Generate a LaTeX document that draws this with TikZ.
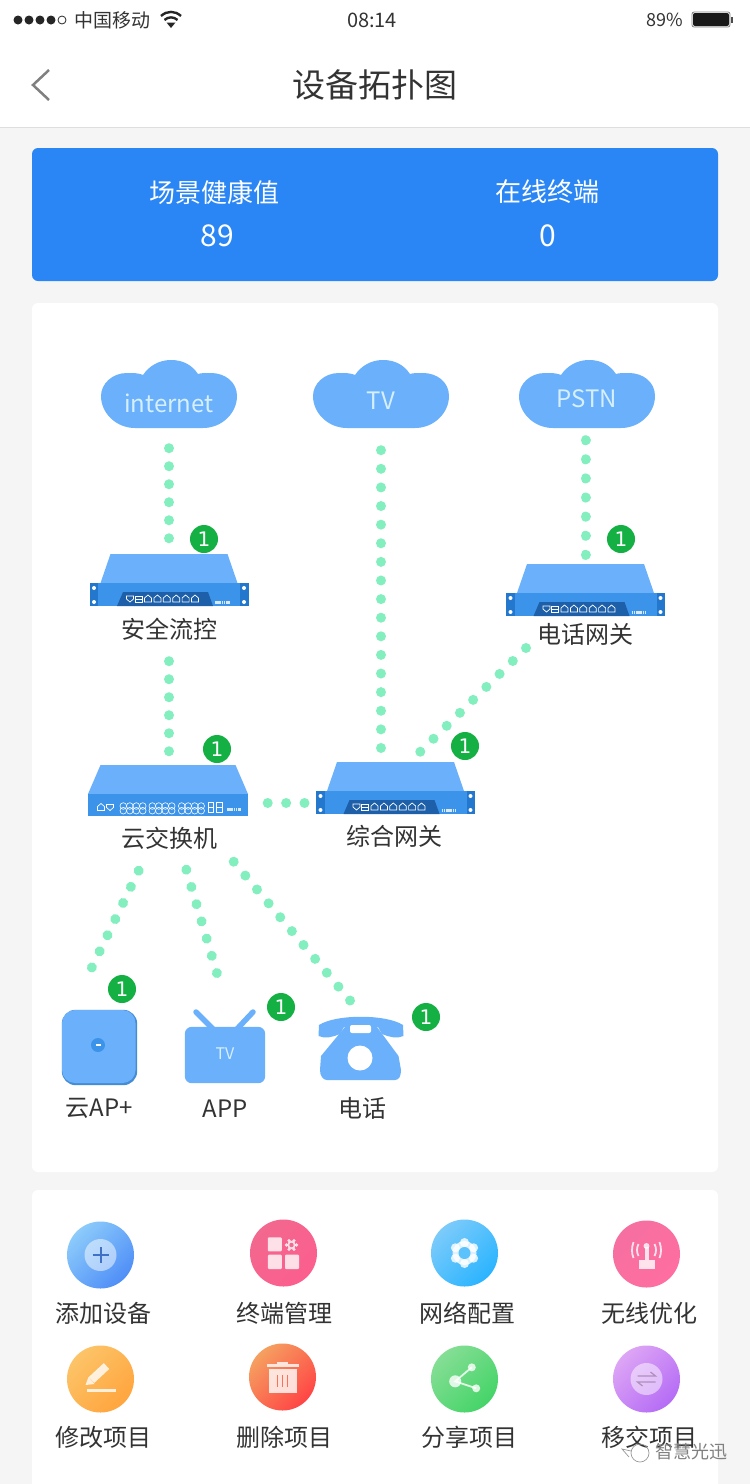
\documentclass[tikz,border=0pt]{standalone}
\usepackage{fontspec}
\setmainfont{Noto Sans CJK SC}
\newfontfamily\badgefont{DejaVu Sans}
\usetikzlibrary{positioning, arrows.meta}
\definecolor{pagegray}{HTML}{F5F5F5}
\definecolor{cardblue}{HTML}{2A86F5}
\definecolor{devtop}{HTML}{6BB0FA}
\definecolor{devfront}{HTML}{3C93EA}
\definecolor{devear}{HTML}{2378CE}
\definecolor{devtray}{HTML}{1D5FA8}
\definecolor{dotgreen}{HTML}{84EFBE}
\definecolor{badgegreen}{HTML}{14B043}
\definecolor{inkgray}{HTML}{333333}
\definecolor{cloudtext}{HTML}{D6EFFF}
\definecolor{addA}{HTML}{8CCBFA}
\definecolor{addB}{HTML}{4F8EF7}
\definecolor{termA}{HTML}{F2688E}
\definecolor{termB}{HTML}{FC5E8E}
\definecolor{netA}{HTML}{7CCBFA}
\definecolor{netB}{HTML}{2AB4FF}
\definecolor{radioA}{HTML}{F56FA0}
\definecolor{radioB}{HTML}{FF6EA0}
\definecolor{editA}{HTML}{FCC468}
\definecolor{editB}{HTML}{FFA53E}
\definecolor{dropA}{HTML}{F5A060}
\definecolor{dropB}{HTML}{FF4545}
\definecolor{shareA}{HTML}{85DE95}
\definecolor{shareB}{HTML}{45D468}
\definecolor{moveA}{HTML}{DDA5F5}
\definecolor{moveB}{HTML}{B56CF5}
\tikzset{
    fs/.style={font=\fontsize{#1}{#1}\selectfont},
    textnode/.style={inner sep=0pt, minimum height=30pt, text=inkgray, fs=24},
    cardtext/.style={inner sep=0pt, text=white, fs=26},
    cloudnode/.style={inner sep=0pt, minimum width=136pt, minimum height=50pt, text=cloudtext, fs=24},
    hostbox/.style={inner sep=0pt, minimum width=159pt, minimum height=#1},
    badge/.style={circle, fill=badgegreen, text=white, inner sep=0pt, minimum size=28pt, font=\badgefont\fontsize{20}{20}\selectfont},
    dotline/.style={draw=dotgreen, line width=10pt, line cap=round, dash pattern=on 0.01pt off #1},
    disc/.style 2 args={circle, inner sep=0pt, minimum size=67pt, top color=#1, bottom color=#2, shading angle=45},
    iconfill/.style={fill=white, fill opacity=.8},
    icondraw/.style={draw=white, draw opacity=.8},
    pics/cloudshape/.style={code={
        \fill[devtop] (-34,34) -- (34,34) .. controls (53,34) and (68,19) .. (68,2)
            .. controls (68,-12) and (56,-21) .. (42,-21) .. controls (36,-21) and (32,-21) .. (29,-20)
            .. controls (23,-29) and (14,-34) .. (2,-34) .. controls (-10,-34) and (-20,-28) .. (-26,-19)
            .. controls (-30,-21) and (-36,-21) .. (-42,-21) .. controls (-57,-21) and (-68,-10) .. (-68,2)
            .. controls (-68,19) and (-53,34) .. (-34,34) -- cycle;
    }},
    pics/gatewaybox/.style={code={
        \fill[devtop] (-58.5,-26) -- (58.5,-26) -- (68.5,3) -- (-68.5,3) -- cycle;
        \fill[devfront] (-79.5,3) rectangle (79.5,26);
        \fill[devear] (-79.5,3) rectangle (-71,26);
        \fill[devear] (71,3) rectangle (79.5,26);
        \foreach \sx in {-75,75}{\foreach \sy in {8,22}{\fill[white] (\sx,\sy) circle (2);}}
        \fill[devtray] (-46,12) -- (39,12) -- (44,26) -- (-52,26) -- cycle;
        \foreach \hx in {-21,-11.6,-2.2,7.2,16.6,26}{
            \draw[white, line width=.7pt] (\hx-3.5,22) -- (\hx+3.5,22) -- (\hx+3.5,18) -- (\hx,15) -- (\hx-3.5,18) -- cycle;}
        \draw[white, line width=.7pt] (-42.5,16) -- (-35.5,16) -- (-35.5,19) -- (-39,22) -- (-42.5,19) -- cycle;
        \draw[white, line width=.7pt] (-34,16) rectangle (-27,22) (-34,19) -- (-27,19);
        \draw[white, opacity=.8, line width=3pt, dash pattern=on 1.6pt off .6pt] (46,22.5) -- (61,22.5);
    }},
    pics/switchbox/.style={code={
        \fill[devtop] (-67.5,-25.5) -- (67.5,-25.5) -- (80,3.5) -- (-80,3.5) -- cycle;
        \fill[devfront] (-80,3.5) rectangle (80,25.5);
        \draw[white, line width=.7pt] (-70.5,20) -- (-63.5,20) -- (-63.5,16) -- (-67,13) -- (-70.5,16) -- cycle;
        \draw[white, line width=.7pt] (-61.5,14) -- (-54.5,14) -- (-54.5,17) -- (-58,20) -- (-61.5,17) -- cycle;
        \foreach \gx in {-44.7,-15.7,13.7}{\foreach \cx in {0,6.5,13,19.5}{\foreach \cy in {15.5,20.2}{
            \draw[white, line width=.6pt] (\gx+\cx,\cy) circle (3.3);}}}
        \draw[white, line width=.6pt] (40,12) rectangle (45.5,21.5) (40,16.7) -- (45.5,16.7);
        \draw[white, line width=.6pt] (48.5,12) rectangle (54,21.5) (48.5,16.7) -- (54,16.7);
        \draw[white, opacity=.8, line width=3pt, dash pattern=on 1.6pt off .6pt] (59,19) -- (73,19);
    }},
    pics/phoneshape/.style={code={
        \fill[devtop] (-42,-23) .. controls (-25,-34) and (25,-34) .. (42,-23) -- (42.5,-12)
            .. controls (36,-9) and (28,-11) .. (21,-14) -- (17,-21) -- (-17,-21) -- (-21,-14)
            .. controls (-28,-11) and (-36,-9) .. (-42.5,-12) -- cycle;
        \fill[devtop] (-16,-21) -- (16,-21) -- (37.5,8) -- (40,22) .. controls (40,28) and (38,32) .. (34,32)
            -- (-34,32) .. controls (-38,32) and (-41,28) .. (-41,22) -- (-40,8) -- cycle;
        \fill[white, rounded corners=2pt] (-11,-23) rectangle (10,-15);
        \fill[white] (-1,10) circle (12.5);
    }},
}

\begin{document}
\begin{tikzpicture}[x=1pt, y=-1pt]
    \useasboundingbox (0,0) rectangle (750,1484);
    % Page and cards
    \fill[pagegray] (0,0) rectangle (750,1484);
    \fill[white] (0,0) rectangle (750,127);
    \draw[black!13, line width=1pt] (0,127.5) -- (750,127.5);
    \fill[cardblue, rounded corners=6pt] (32,148) rectangle (718,281);
    \fill[white, rounded corners=6pt] (32,303) rectangle (718,1172);
    \fill[white, rounded corners=6pt] (32,1484) -- (32,1190) -- (718,1190) -- (718,1484);

    % Status bar
    \foreach \x in {18,29,40,51} \fill[black!85] (\x,20) circle (4.5);
    \draw[black!85, line width=.8pt] (62,20) circle (4);
    \node[inner sep=0pt, text=inkgray, fs=19] (carrier) at (112,20) {中国移动};
    \draw[black!85, line width=2.4pt] (161,16) .. controls (167,10.5) and (175,10.5) .. (181,16);
    \draw[black!85, line width=2.4pt] (164.5,20) .. controls (168,16.5) and (174,16.5) .. (177.5,20);
    \fill[black!85] (166.5,22.5) -- (175.5,22.5) -- (171,28) -- cycle;
    \node[inner sep=0pt, text=inkgray, fs=20] (clock) at (372,20) {08:14};
    \node[inner sep=0pt, text=inkgray, fs=18] (level) at (665,20) {89\%};
    \draw[black!50, line width=.8pt, rounded corners=2pt] (692,12) rectangle (730,27);
    \fill[black!90, rounded corners=2pt] (693,13) rectangle (729,26);
    \fill[black!70] (731,17) rectangle (733,23);

    % Header
    \draw[black!50, line width=2.5pt] (49,70) -- (33,85) -- (49,100);
    \node[inner sep=0pt, text=inkgray, fs=33] (title) at (375,85) {设备拓扑图};

    % Summary
    \node[cardtext] (health) at (214,192) {场景健康值};
    \node[cardtext] (online) at (547,192) {在线终端};
    \node[cardtext, fs=30] (healthval) at (217,236) {89};
    \node[cardtext, fs=30] (onlineval) at (548,236) {0};

    % Clouds
    \pic at (169,394) {cloudshape};
    \pic at (381,394) {cloudshape};
    \pic at (587,394) {cloudshape};
    \node[cloudnode] (internet) at (169,403) {internet};
    \node[cloudnode] (tv) at (381,401) {TV};
    \node[cloudnode] (pstn) at (587,399) {PSTN};

    % Devices
    \node[hostbox=52pt] (ctrl) at (169,580) {};
    \node[hostbox=52pt] (voice) at (585.5,590) {};
    \node[hostbox=52pt] (gateway) at (395.5,788) {};
    \node[hostbox=51pt] (switch) at (168,790.5) {};
    \pic at (ctrl) {gatewaybox};
    \pic at (voice) {gatewaybox};
    \pic at (gateway) {gatewaybox};
    \pic at (switch) {switchbox};
    \node[textnode] (ctrllabel) at (169,629) {安全流控};
    \node[textnode] (voicelabel) at (585,634) {电话网关};
    \node[textnode] (gatewaylabel) at (394,836) {综合网关};
    \node[textnode] (switchlabel) at (169,838) {云交换机};

    % Terminals
    \node[inner sep=0pt, minimum size=75pt] (ap) at (99.5,1047.5) {};
    \fill[devear!85, rounded corners=14pt] (ap.north west) rectangle (ap.south east);
    \fill[devtop, rounded corners=13pt] (62,1010) rectangle (135.5,1083);
    \fill[devfront] (98,1045) circle (7);
    \fill[white] (95.5,1044) rectangle (100.5,1046);
    \node[inner sep=0pt, minimum width=80pt, minimum height=56pt] (tvset) at (225,1055) {};
    \fill[devtop, rounded corners=7pt] (tvset.north west) rectangle (tvset.south east);
    \draw[devtop, line width=5.5pt, line cap=round] (213,1029) -- (196,1012);
    \draw[devtop, line width=5.5pt, line cap=round] (237,1029) -- (253,1012);
    \node[inner sep=0pt, text=cloudtext, fs=16] (tvmark) at (225,1054) {TV};
    \node[inner sep=0pt, minimum width=85pt, minimum height=65pt] (phone) at (361,1048) {};
    \pic at (phone) {phoneshape};
    \node[textnode] (aplabel) at (99,1108) {云AP+};
    \node[textnode] (tvlabel) at (225,1109) {APP};
    \node[textnode] (phonelabel) at (362,1108) {电话};

    % Free ends of the slanted links
    \coordinate (voiceout) at (526,648);
    \coordinate (gatewayin) at (420,752);
    \coordinate (swout1) at (138.7,870.7);
    \coordinate (apin) at (91.6,968);
    \coordinate (swout2) at (186.3,869.7);
    \coordinate (tvin) at (217,973.4);
    \coordinate (swout3) at (233.7,861.7);
    \coordinate (phonein) at (350.3,1000.8);

    % Edges
    \draw[dotline=18pt, shorten <=20pt, shorten >=15.4pt] (internet.south) -- (ctrl.north);
    \draw[dotline=18.6pt, shorten <=24pt, shorten >=13.6pt] (tv.south) -- (tv.south |- gateway.north);
    \draw[dotline=19.1pt, shorten <=16pt, shorten >=8.6pt] (voice.north |- pstn.south) -- (voice.north);
    \draw[dotline=18pt, shorten <=17pt, shorten >=13.4pt] (ctrllabel.south) -- (ctrllabel.south |- switch.north);
    \draw[dotline=18.4pt, shorten <=20pt, shorten >=10.8pt] ([yshift=-12.5pt]switch.east) -- ([yshift=-15pt]gateway.west);
    \draw[dotline=18.5pt] (voiceout) -- (gatewayin);
    \draw[dotline=17.9pt] (swout1) -- (apin);
    \draw[dotline=17.95pt] (swout2) -- (tvin);
    \draw[dotline=18.1pt] (swout3) -- (phonein);

    % Badges
    \node[badge] (badgectrl) at (204,539) {1};
    \node[badge] (badgevoice) at (621,539) {1};
    \node[badge] (badgeswitch) at (217,749) {1};
    \node[badge] (badgegateway) at (465,746) {1};
    \node[badge] (badgeap) at (122,989) {1};
    \node[badge] (badgetv) at (281,1007) {1};
    \node[badge] (badgephone) at (426,1017) {1};

    % Action buttons
    \node[disc={addA}{addB}] (add) at (100.5,1255) {};
    \node[disc={termA}{termB}] (term) at (283.5,1253) {};
    \node[disc={netA}{netB}] (net) at (464.5,1253) {};
    \node[disc={radioA}{radioB}] (radio) at (646.5,1254) {};
    \node[disc={editA}{editB}] (edit) at (100.5,1379) {};
    \node[disc={dropA}{dropB}] (drop) at (282.5,1377) {};
    \node[disc={shareA}{shareB}] (share) at (464.5,1379) {};
    \node[disc={moveA}{moveB}] (move) at (646.5,1379) {};
    \node[textnode] (addlabel) at (103.5,1313) {添加设备};
    \node[textnode] (termlabel) at (284,1313) {终端管理};
    \node[textnode] (netlabel) at (467,1313) {网络配置};
    \node[textnode] (radiolabel) at (649,1313) {无线优化};
    \node[textnode] (editlabel) at (103.5,1437) {修改项目};
    \node[textnode] (droplabel) at (284,1437) {删除项目};
    \node[textnode] (sharelabel) at (469,1437) {分享项目};
    \node[textnode] (movelabel) at (649,1437) {移交项目};

    % Button glyphs
    \begin{scope}[shift={(add)}]
        \fill[white, opacity=.5] (0,0) circle (16);
        \draw[addB!80!black, line width=2pt] (-8,0) -- (8,0) (0,-8) -- (0,8);
    \end{scope}
    \begin{scope}[shift={(term)}]
        \fill[iconfill, rounded corners=1pt] (-15.7,-15.7) rectangle (-1.7,-1.7);
        \fill[iconfill, rounded corners=1pt] (-15.7,1.7) rectangle (-1.7,16);
        \fill[iconfill, rounded corners=1pt] (1.5,1.7) rectangle (15.7,16);
        \foreach \a in {0,60,...,300} \fill[white, opacity=.8] (8,-8) ++(\a:5) circle (1.8);
        \fill[white, opacity=.8] (8,-8) circle (4.2);
        \fill[termA] (8,-8) circle (2.2);
    \end{scope}
    \begin{scope}[shift={(net)}]
        \foreach \a in {30,90,...,330} \fill[white, opacity=.8] (\a:10.5) circle (4.5);
        \fill[white, opacity=.8] (0,0) circle (12);
        \fill[netA!60!netB] (0,0) circle (6);
    \end{scope}
    \begin{scope}[shift={(radio)}]
        \fill[iconfill] (-8,6) rectangle (8,15);
        \fill[iconfill] (-2,-7) rectangle (2,6);
        \fill[iconfill] (0,-8) circle (3);
        \draw[icondraw, line width=1.8pt] (-8,-10) .. controls (-10,-6) and (-10,-2) .. (-8,2);
        \draw[icondraw, line width=1.8pt] (8,-10) .. controls (10,-6) and (10,-2) .. (8,2);
        \draw[icondraw, line width=1.8pt] (-13,-12) .. controls (-15,-6) and (-15,-1) .. (-13,4);
        \draw[icondraw, line width=1.8pt] (13,-12) .. controls (15,-6) and (15,-1) .. (13,4);
    \end{scope}
    \begin{scope}[shift={(edit)}]
        \draw[icondraw, line width=8pt] (-9,1) -- (6,-13);
        \fill[iconfill] (-12,-2) -- (-6,5) -- (-15,6) -- cycle;
        \draw[icondraw, line width=2.5pt] (-14,11.7) -- (15,11.7);
    \end{scope}
    \begin{scope}[shift={(drop)}]
        \draw[icondraw, line width=3pt] (-16,-11.3) -- (16,-11.3);
        \draw[icondraw, line width=2.5pt] (-5.5,-14) -- (5.5,-14);
        \fill[iconfill] (-14,-8) rectangle (14,16);
        \draw[dropA!50!dropB, line width=1.5pt] (-5,-2) -- (-5,10) (0,-2) -- (0,10) (5,-2) -- (5,10);
    \end{scope}
    \begin{scope}[shift={(share)}]
        \draw[icondraw, line width=1.8pt] (7.3,-11.7) -- (-9.3,2.3) -- (11.7,9.3);
        \fill[iconfill] (-9.3,2.3) circle (6);
        \fill[iconfill] (7.3,-11.7) circle (4);
        \fill[iconfill] (11.7,9.3) circle (4);
    \end{scope}
    \begin{scope}[shift={(move)}]
        \fill[white, opacity=.5] (0,0) circle (16);
        \draw[moveA!70!black!80, line width=1.2pt] (-9,-3) -- (9,-3) -- (4,-7);
        \draw[moveA!70!black!80, line width=1.2pt] (9,3) -- (-9,3) -- (-4,7);
    \end{scope}

    % Watermark
    \draw[black!40, line width=.7pt] (640,1453) circle (9);
    \draw[black!40, line width=.7pt] (631,1451) -- (622,1449) -- (629,1457);
    \node[inner sep=0pt, text=black!50, fs=18] (mark) at (691,1452) {智慧光迅};
\end{tikzpicture}
\end{document}
